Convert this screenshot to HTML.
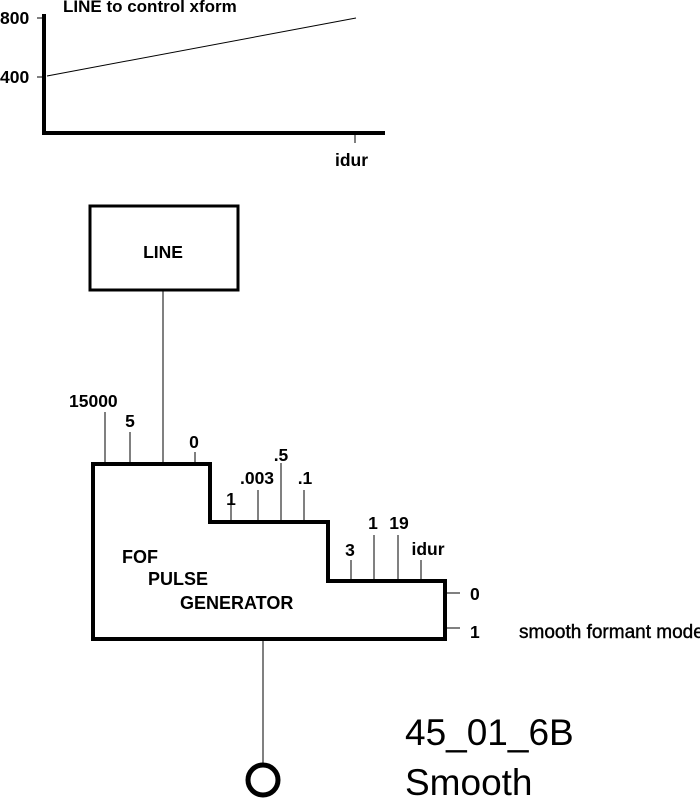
<!DOCTYPE html>
<html><head><style>
html,body{margin:0;padding:0;background:#fff;width:700px;height:800px;overflow:hidden}
svg text{font-family:"Liberation Sans",Arial,sans-serif;fill:#000}
</style></head><body>
<svg width="700" height="800" viewBox="0 0 700 800" xmlns="http://www.w3.org/2000/svg">
<g stroke="#000" fill="none" shape-rendering="crispEdges">
<line x1="44" y1="14" x2="44" y2="135" stroke-width="4"/>
<line x1="42" y1="133" x2="385" y2="133" stroke-width="4"/>
<line x1="37" y1="18" x2="44" y2="18" stroke-width="1"/>
<line x1="37" y1="77" x2="44" y2="77" stroke-width="1"/>
<line x1="355" y1="133" x2="355" y2="143" stroke-width="1"/>
<rect x="90" y="206" width="148" height="84" stroke-width="3"/>
<line x1="163" y1="290" x2="163" y2="464" stroke-width="1"/>
<polygon points="93,464 210,464 210,522 328,522 328,581 445,581 445,639 93,639" stroke-width="4"/>
<g stroke-width="1">
<line x1="105" y1="412" x2="105" y2="464"/>
<line x1="130" y1="432" x2="130" y2="464"/>
<line x1="195" y1="452" x2="195" y2="464"/>
<line x1="231" y1="504" x2="231" y2="522"/>
<line x1="258" y1="490" x2="258" y2="522"/>
<line x1="281" y1="463" x2="281" y2="522"/>
<line x1="304" y1="490" x2="304" y2="522"/>
<line x1="351" y1="560" x2="351" y2="581"/>
<line x1="374" y1="535" x2="374" y2="581"/>
<line x1="398" y1="535" x2="398" y2="581"/>
<line x1="421" y1="560" x2="421" y2="581"/>
<line x1="445" y1="593" x2="460" y2="593"/>
<line x1="445" y1="628" x2="460" y2="628"/>
<line x1="263" y1="639" x2="263" y2="765"/>
</g>
</g>
<line x1="47" y1="76" x2="356" y2="18" stroke="#000" stroke-width="1"/>
<circle cx="263" cy="780" r="15" stroke="#000" fill="none" stroke-width="5"/>
<g font-size="17.5" font-weight="bold">
<text x="63" y="12" font-size="17">LINE to control xform</text>
<text x="0" y="24">800</text>
<text x="0" y="83">400</text>
<text x="335" y="166">idur</text>
<text x="163" y="258" text-anchor="middle">LINE</text>
<text x="69" y="407">15000</text>
<text x="130" y="427" text-anchor="middle">5</text>
<text x="194" y="448" text-anchor="middle">0</text>
<text x="231" y="505" text-anchor="middle">1</text>
<text x="257" y="484" text-anchor="middle">.003</text>
<text x="281" y="461" text-anchor="middle">.5</text>
<text x="305" y="484" text-anchor="middle">.1</text>
<text x="350" y="556" text-anchor="middle">3</text>
<text x="373" y="529" text-anchor="middle">1</text>
<text x="399" y="529" text-anchor="middle">19</text>
<text x="428" y="555" text-anchor="middle">idur</text>
<text x="470" y="600">0</text>
<text x="470" y="638">1</text>
<text x="519" y="638" font-weight="normal" font-size="19" style="stroke:#000;stroke-width:0.4">smooth formant mode</text>
<text x="122" y="563" font-size="18">FOF</text>
<text x="148" y="585" font-size="18">PULSE</text>
<text x="180" y="609" font-size="18">GENERATOR</text>
</g>
<text x="405" y="745" font-size="37">45_01_6B</text>
<text x="405" y="795" font-size="37">Smooth</text>
</svg>
</body></html>
